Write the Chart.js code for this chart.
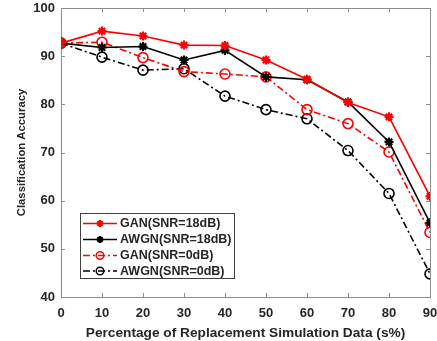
<!DOCTYPE html>
<html><head><meta charset="utf-8">
<script src="https://cdn.jsdelivr.net/npm/chart.js@4/dist/chart.umd.min.js"></script>
<style>html,body{margin:0;padding:0;background:#fff}#wrap{width:437px;height:341px}</style>
</head><body><div id="wrap"><canvas id="c" width="437" height="341"></canvas></div>
<script>
const xValues = [0, 10, 20, 30, 40, 50, 60, 70, 80, 90];
const ganSnr18 = [92.7, 95.2, 94.2, 92.3, 92.2, 89.2, 85.2, 80.4, 77.4, 60.9];
const awgnSnr18 = [92.7, 91.8, 92.0, 89.2, 91.2, 85.7, 85.1, 80.5, 72.2, 55.4];
const ganSnr0 = [92.7, 92.9, 89.7, 86.8, 86.3, 85.7, 78.9, 76.0, 70.1, 53.4];
const awgnSnr0 = [92.7, 89.8, 87.1, 87.4, 81.7, 78.9, 77.0, 70.4, 61.5, 44.8];
const seriesNames = ['GAN(SNR=18dB)', 'AWGN(SNR=18dB)', 'GAN(SNR=0dB)', 'AWGN(SNR=0dB)'];
const xTicks = [0, 10, 20, 30, 40, 50, 60, 70, 80, 90];
const yTicks = [40, 50, 60, 70, 80, 90, 100];
const xTitle = 'Percentage of Replacement Simulation Data (s%)';
const yTitle = 'Classification Accuracy';

const FONT = '"Liberation Sans", Arial, sans-serif';
const TXT = '#262626';
const AX = '#8c8c8c';
const DASHDOT = [7, 3, 2, 3];

function pts(arr){ return arr.map((v,i)=>({x:xValues[i], y:v})); }

const datasets = [
  {label: seriesNames[0], data: pts(ganSnr18), borderColor:'#ff0000', borderWidth:1.6, pointStyle:'star', pointRadius:4.5, pointBorderWidth:2.2, borderDash:[]},
  {label: seriesNames[1], data: pts(awgnSnr18), borderColor:'#000000', borderWidth:1.6, pointStyle:'star', pointRadius:4.5, pointBorderWidth:2.2, borderDash:[]},
  {label: seriesNames[2], data: pts(ganSnr0), borderColor:'#ff0000', borderWidth:1.6, pointStyle:'circle', pointRadius:5, pointBorderWidth:1.6, borderDash:DASHDOT},
  {label: seriesNames[3], data: pts(awgnSnr0), borderColor:'#000000', borderWidth:1.6, pointStyle:'circle', pointRadius:5, pointBorderWidth:1.6, borderDash:DASHDOT}
];
datasets.forEach(d=>{
  d.tension=0; d.fill=false;
  d.pointBorderColor = d.borderColor;
  d.backgroundColor = d.pointStyle==='circle' ? 'rgba(0,0,0,0)' : d.borderColor;
  d.pointBackgroundColor = d.backgroundColor;
});

const boxPlugin = {
  id:'box',
  beforeDatasetsDraw(chart){
    const {ctx, chartArea:a, scales:{x,y}} = chart;
    ctx.save();
    ctx.strokeStyle = AX; ctx.lineWidth = 1;
    ctx.strokeRect(Math.round(a.left)+0.5, Math.round(a.top)+0.5, Math.round(a.right-a.left), Math.round(a.bottom-a.top));
    const L = 4;
    ctx.beginPath();
    xTicks.forEach(t=>{ const px = Math.round(x.getPixelForValue(t))+0.5;
      ctx.moveTo(px, a.bottom); ctx.lineTo(px, a.bottom-L);
      ctx.moveTo(px, a.top); ctx.lineTo(px, a.top+L); });
    yTicks.forEach(t=>{ const py = Math.round(y.getPixelForValue(t))+0.5;
      ctx.moveTo(a.left, py); ctx.lineTo(a.left+L, py);
      ctx.moveTo(a.right, py); ctx.lineTo(a.right-L, py); });
    ctx.stroke();
    ctx.restore();
  },
  afterDraw(chart){
    const {ctx} = chart;
    ctx.save();
    const bx = 80.5, by = 213.5, bw = 154, bh = 65;
    ctx.fillStyle = '#fff'; ctx.fillRect(bx, by, bw, bh);
    ctx.strokeStyle = '#404040'; ctx.lineWidth = 1; ctx.strokeRect(bx, by, bw, bh);
    const rows = [223.5, 239.5, 255.5, 271];
    chart.data.datasets.forEach((d,i)=>{
      const yy = rows[i];
      ctx.strokeStyle = d.borderColor; ctx.lineWidth = 1.6;
      ctx.setLineDash(d.borderDash||[]);
      ctx.beginPath(); ctx.moveTo(83, yy); ctx.lineTo(117, yy); ctx.stroke();
      ctx.setLineDash([]);
      ctx.strokeStyle = d.borderColor;
      if (d.pointStyle==='circle') {
        ctx.lineWidth = 1.5;
        ctx.beginPath(); ctx.arc(100, yy, 3.8, 0, Math.PI*2); ctx.stroke();
      } else {
        ctx.fillStyle = d.borderColor; ctx.lineWidth = 2;
        Chart.helpers.drawPoint(ctx, {pointStyle:'star', radius:3.5, borderWidth:2, rotation:0}, 100, yy);
      }
      ctx.fillStyle = TXT; ctx.font = 'bold 12.5px ' + FONT; ctx.textBaseline = 'middle'; ctx.textAlign='left';
      ctx.fillText(d.label, 120, yy+0.5);
    });
    ctx.restore();
  }
};

new Chart(document.getElementById('c'), {
  type:'line',
  data:{datasets},
  options:{
    responsive:false, animation:false, devicePixelRatio:1,
    layout:{padding:{top:8, right:7, left:0, bottom:0}},
    plugins:{legend:{display:false}, tooltip:{enabled:false}},
    scales:{
      x:{type:'linear', min:0, max:90,
        afterBuildTicks(s){ s.ticks = xTicks.map(v=>({value:v})); },
        afterFit(s){ s.height = 44; s.paddingLeft = 0; s.paddingRight = 0; },
        grid:{display:false, drawTicks:false}, border:{display:false},
        ticks:{color:TXT, font:{family:FONT, size:13, weight:'bold'}, padding:9, maxRotation:0, autoSkip:false},
        title:{display:true, text:xTitle, color:TXT, font:{family:FONT, size:13.7, weight:'bold'}, padding:{top:2, bottom:0}}
      },
      y:{type:'linear', min:40, max:100,
        afterBuildTicks(s){ s.ticks = yTicks.map(v=>({value:v})); },
        afterFit(s){ s.width = 61; s.paddingTop = 0; s.paddingBottom = 0; },
        grid:{display:false, drawTicks:false}, border:{display:false},
        ticks:{color:TXT, font:{family:FONT, size:13, weight:'bold'}, padding:6, autoSkip:false},
        title:{display:true, text:yTitle, color:TXT, font:{family:FONT, size:11.3, weight:'bold'}, padding:{top:15, bottom:4}}
      }
    }
  },
  plugins:[boxPlugin]
});
</script></body></html>
